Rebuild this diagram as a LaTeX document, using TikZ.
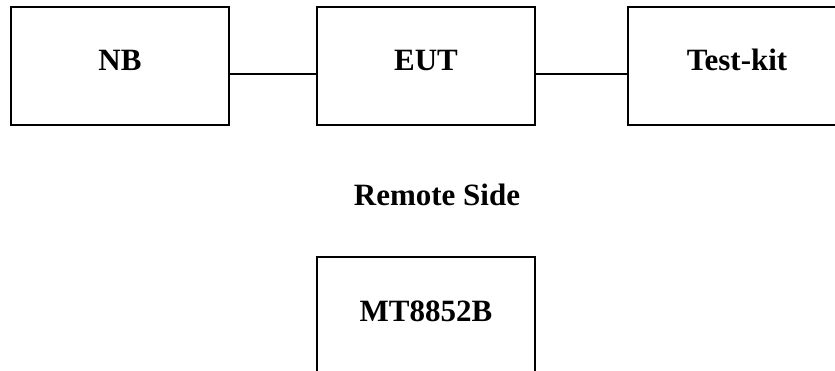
\documentclass[tikz,border=0pt]{standalone}
\usepackage{fontspec}
\setmainfont{Liberation Serif}
\usetikzlibrary{positioning,calc}

\begin{document}
\begin{tikzpicture}[x=1pt,y=1pt]
  \tikzstyle{unit}=[rectangle, draw, line width=1.2pt, minimum width=218pt, minimum height=118pt, font=\fontsize{31}{36}\selectfont\bfseries, text height=22pt, text depth=12pt, inner sep=0pt]
  \tikzstyle{link}=[line width=1.2pt]

  \clip (0,0) rectangle (835,370);
  \useasboundingbox (0,0) rectangle (835,370);

  \node[unit] (nb) at (120,304) {NB};
  \node[unit] (eut) at (426,304) {EUT};
  \node[unit] (kit) at (737,304) {Test-kit};
  \node[font=\fontsize{31}{36}\selectfont\bfseries] (remote) at (437,175) {Remote Side};
  \node[unit] (mt) at (426,54) {MT8852B};

  % local side links
  \draw[link] ([yshift=-8pt]nb.east) -- ([yshift=-8pt]eut.west);
  \draw[link] ([yshift=-8pt]eut.east) -- ([yshift=-8pt]kit.west);
\end{tikzpicture}
\end{document}
